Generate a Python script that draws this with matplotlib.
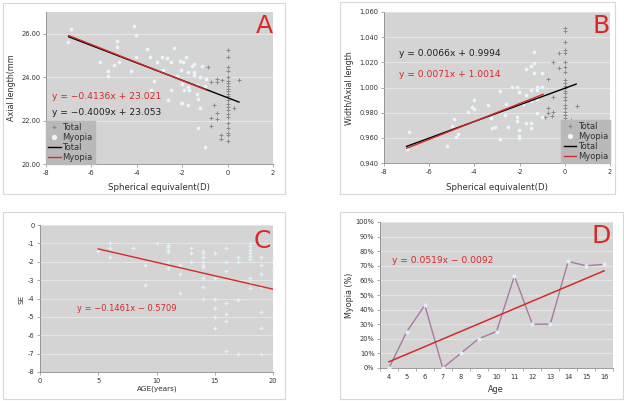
import matplotlib
matplotlib.use("Agg")
import matplotlib.pyplot as plt
import numpy as np
from matplotlib.patches import Rectangle
from matplotlib.lines import Line2D
from matplotlib.ticker import FuncFormatter

plt.rcParams['font.family'] = ['DejaVu Sans']
plt.rcParams['axes.unicode_minus'] = False

W, H = 624, 401

# ---------------- Data ----------------
# Panel A: Axial length vs spherical equivalent
a_myo_x = [-7.01, -6.89, -5.64, -5.27, -5.27, -5.02, -4.89, -4.89, -4.77, -4.25, -4.14, -4.02, -4.02,
           -3.55, -3.40, -3.37, -3.25, -3.13, -2.90, -2.85, -2.66, -2.62, -2.49, -2.49, -2.37, -2.22,
           -2.10, -2.04, -2.07, -2.00, -2.00, -1.96, -1.93, -1.85, -1.75, -1.75, -1.75, -1.70, -1.55,
           -1.48, -1.48, -1.48, -1.36, -1.36, -1.30, -1.30, -1.23, -1.23, -1.11, -1.01, -1.01, -0.96]
a_myo_y = [25.63, 26.21, 24.68, 24.26, 24.07, 24.56, 25.67, 25.37, 24.68, 24.30, 26.36, 25.96, 24.91,
           25.30, 24.91, 23.39, 23.80, 24.68, 24.94, 24.35, 24.88, 22.93, 24.68, 23.39, 25.34, 24.07,
           24.76, 24.35, 22.82, 22.80, 23.69, 24.68, 23.39, 24.91, 24.22, 23.54, 22.73, 23.40, 24.53,
           24.22, 24.10, 24.60, 23.62, 23.24, 23.00, 21.66, 24.00, 22.58, 24.53, 20.79, 23.60, 23.90]
a_oth_x = [-0.86, -0.73, -0.48, -0.48, -0.23, 0.51, 0.26, -0.62, -0.73, -0.48, -0.48, -0.73, -0.30, -0.30] + [0.0] * 23
a_oth_y = [24.49, 23.77, 23.92, 23.77, 23.89, 23.88, 22.59, 22.73, 22.14, 22.33, 22.05, 21.77, 21.33, 21.13,
           25.25, 24.91, 24.49, 24.27, 24.00, 23.84, 23.72, 23.57, 23.46, 23.36, 23.24, 23.11, 22.96,
           22.75, 22.62, 22.50, 22.32, 22.17, 21.89, 21.68, 21.43, 21.33, 21.05]
a_tot_fit = (-0.4009, 23.053, -7.0, 0.5)   # slope, intercept, x range
a_myo_fit = (-0.4136, 23.021, -7.0, -0.96)

# Panel B: Width/Axial length vs spherical equivalent
b_myo_x = [-7.00, -6.88, -5.23, -5.00, -4.89, -4.83, -4.74, -4.27, -4.12, -4.00, -4.00, -3.38, -3.27,
           -3.22, -3.09, -2.87, -2.85, -2.62, -2.63, -2.50, -2.35, -2.13, -2.01, -2.13, -2.10, -2.01,
           -2.01, -2.01, -1.84, -1.73, -1.73, -1.73, -1.50, -1.50, -1.50, -1.50, -1.50, -1.36, -1.36,
           -1.36, -1.24, -1.24, -1.24, -1.24, -1.02, -1.02, -1.02]
b_myo_y = [0.9510, 0.9649, 0.9535, 0.9694, 0.9752, 0.9609, 0.9630, 0.9803, 0.9847, 0.9829, 0.9900, 0.9861, 0.9755,
           0.9676, 0.9688, 0.9975, 0.9590, 0.9869, 0.9781, 0.9689, 1.0002, 1.0002, 0.9967, 0.9768, 0.9736, 0.9662,
           0.9617, 0.9598, 0.9866, 1.0147, 0.9940, 0.9716, 1.0170, 0.9980, 0.9891, 0.9676, 0.9720, 1.0285, 1.0192,
           1.0113, 1.0007, 0.9980, 0.9795, 0.9907, 1.0007, 1.0113, 0.9768]
b_oth_x = [-0.88, -0.73, -0.73, -0.73, -0.57, -0.51, -0.51, -0.51, -0.24, -0.24, 0.53, 0.27] + [0.0] * 24
b_oth_y = [0.9768, 1.0065, 0.9835, 0.9795, 0.9770, 1.0205, 0.9927, 0.9808, 1.0277, 1.0153, 0.9853, 0.9742,
           1.0470, 1.0450, 1.0364, 1.0298, 1.0272, 1.0205, 1.0166, 1.0126, 1.0060, 1.0033, 1.0012, 0.9994,
           0.9975, 0.9954, 0.9927, 0.9901, 0.9861, 0.9835, 0.9808, 0.9782, 0.9755, 0.9728, 0.9700, 0.9660]
b_tot_fit = (0.0066, 0.9994, -7.0, 0.5)
b_myo_fit = (0.0071, 1.0014, -7.0, -0.96)

# Panel C: SE vs age
c_age = [5, 6, 6, 6, 8, 9, 9, 10, 11, 11, 11, 11, 11, 11, 12, 12, 12, 13, 13, 13,
         14, 14, 14, 14, 14, 14, 14, 14, 14, 15, 15, 15, 15, 15, 15, 16, 16, 16, 16, 16, 16, 16,
         17, 17, 17, 17, 18, 18, 18, 18, 18, 18, 18, 18, 18, 19, 19, 19, 19, 19, 19, 19, 20, 20]
c_se = [-1.40, -1.00, -1.27, -1.73, -1.27, -2.15, -3.27, -1.00, -1.10, -1.22, -1.36, -1.45, -2.00, -2.36,
        -2.15, -2.64, -3.69, -1.27, -1.51, -2.00,
        -1.40, -1.55, -1.73, -2.00, -2.15, -2.27, -2.91, -3.40, -4.00,
        -1.51, -2.91, -4.00, -4.51, -5.00, -5.60,
        -1.27, -2.00, -2.51, -4.27, -4.85, -5.22, -6.87,
        -1.76, -2.00, -4.09, -7.00,
        -1.00, -1.15, -1.36, -1.55, -1.69, -1.87, -2.91, -3.15, -3.45,
        -1.73, -2.15, -2.64, -3.36, -4.73, -5.60, -7.00,
        -1.76, -2.51]
c_fit = (-0.1461, -0.5709, 5.0, 20.0)

# Panel D: Myopia prevalence by age
d_age = ['4', '5', '6', '7', '8', '9', '10', '11', '12', '13', '14', '15', '16']
d_pct = [0.00, 0.25, 0.43, 0.00, 0.10, 0.20, 0.25, 0.63, 0.30, 0.30, 0.73, 0.70, 0.71]
d_fit = (0.0519, -0.0092)

# ---------------- Style ----------------
BG = '#d4d4d4'
GRID = '#e6e6e6'
AXC = '#8c8c8c'
RED = '#d42a2a'
MYO = '#eaf6f9'
TOT = '#8a8a8a'
TICK_FS = 4.8
LAB_FS = 5.8
EQ_FS = 6.6

fig = plt.figure(figsize=(W / 100, H / 100), dpi=100)
fig.patch.set_facecolor('white')


def frame(x0, y0, x1, y1):
    fig.patches.append(Rectangle((x0 / W, 1 - y1 / H), (x1 - x0) / W, (y1 - y0) / H,
                                 transform=fig.transFigure, fill=False,
                                 edgecolor='#d8d8d8', linewidth=0.8))


def mkax(x0, y0, x1, y1):
    ax = fig.add_axes([x0 / W, 1 - y1 / H, (x1 - x0) / W, (y1 - y0) / H])
    ax.set_facecolor(BG)
    for s in ['top', 'right']:
        ax.spines[s].set_visible(False)
    for s in ['left', 'bottom']:
        ax.spines[s].set_color(AXC)
        ax.spines[s].set_linewidth(0.6)
    ax.tick_params(labelsize=TICK_FS, colors='#333333', length=2, width=0.5,
                   pad=2, color=AXC)
    ax.grid(axis='y', color=GRID, linewidth=0.7)
    ax.set_axisbelow(True)
    return ax


def ftext(x, y, s, **kw):
    fig.text(x / W, 1 - y / H, s, **kw)


def fitline(ax, fit, color, lw=1.0, z=4):
    m, b, x0, x1 = fit
    xs = np.array([x0, x1])
    ax.plot(xs, m * xs + b, color=color, linewidth=lw, zorder=z)


def legend_box(ax, loc, anchor):
    handles = [Line2D([], [], linestyle='none', marker='+', color=TOT, markersize=3, markeredgewidth=0.8),
               Line2D([], [], linestyle='none', marker='o', color=MYO, markersize=2.8),
               Line2D([], [], color='black', linewidth=1.0),
               Line2D([], [], color=RED, linewidth=1.0)]
    leg = ax.legend(handles, ['Total', 'Myopia', 'Total', 'Myopia'], loc=loc,
                    bbox_to_anchor=anchor, fontsize=6.0, frameon=True, fancybox=False,
                    handlelength=1.5, handletextpad=0.2, borderpad=0.25, labelspacing=0.12,
                    borderaxespad=0.0, framealpha=1.0)
    leg.get_frame().set_facecolor('#b9b9b9')
    leg.get_frame().set_edgecolor('#b9b9b9')
    for t in leg.get_texts():
        t.set_color('#303030')
    leg.set_zorder(10)
    return leg


def scatter_pair(ax, oth_x, oth_y, myo_x, myo_y):
    # Total series (all subjects); myopic subjects are drawn on top as light circles
    ax.scatter(oth_x, oth_y, marker='+', s=8, c=TOT, linewidths=0.7, zorder=2)
    ax.scatter(myo_x, myo_y, marker='o', s=7, c=MYO, linewidths=0, zorder=3)


# ---------------- Panel A ----------------
frame(3, 3, 285, 194)
axA = mkax(46, 12, 273, 164)
scatter_pair(axA, a_oth_x, a_oth_y, a_myo_x, a_myo_y)
fitline(axA, a_tot_fit, 'black')
fitline(axA, a_myo_fit, RED)
axA.set_xlim(-8, 2)
axA.set_ylim(20, 27)
axA.set_xticks([-8, -6, -4, -2, 0, 2])
axA.set_yticks([20, 22, 24, 26])
axA.yaxis.set_major_formatter(FuncFormatter(lambda v, p: f'{v:.2f}'))
axA.text(0.025, 0.447, 'y = −0.4136x + 23.021', transform=axA.transAxes, color=RED,
         fontsize=EQ_FS, va='center', ha='left')
axA.text(0.025, 0.342, 'y = −0.4009x + 23.053', transform=axA.transAxes, color='#202020',
         fontsize=EQ_FS, va='center', ha='left')
axA.text(0.998, 0.99, 'A', transform=axA.transAxes, color=RED, fontsize=18,
         ha='right', va='top')
legend_box(axA, 'lower left', (0.0, 0.0))
ftext(159, 188, 'Spherical equivalent(D)', fontsize=LAB_FS + 0.4, ha='center', va='center', color='#303030')
ftext(12, 88, 'Axial length(mm', fontsize=LAB_FS, ha='center', va='center', rotation=90, color='#303030')

# ---------------- Panel B ----------------
frame(340, 2, 615, 194)
axB = mkax(384, 12, 610, 163)
scatter_pair(axB, b_oth_x, b_oth_y, b_myo_x, b_myo_y)
fitline(axB, b_tot_fit, 'black')
fitline(axB, b_myo_fit, RED)
axB.set_xlim(-8, 2)
axB.set_ylim(0.94, 1.06)
axB.set_xticks([-8, -6, -4, -2, 0, 2])
axB.set_yticks([0.94, 0.96, 0.98, 1.00, 1.02, 1.04, 1.06])
axB.yaxis.set_major_formatter(FuncFormatter(lambda v, p: f'{v:.3f}'))
axB.text(0.068, 0.722, 'y = 0.0066x + 0.9994', transform=axB.transAxes, color='#202020',
         fontsize=EQ_FS, va='center', ha='left')
axB.text(0.068, 0.583, 'y = 0.0071x + 1.0014', transform=axB.transAxes, color=RED,
         fontsize=EQ_FS, va='center', ha='left')
axB.text(0.998, 0.99, 'B', transform=axB.transAxes, color=RED, fontsize=18,
         ha='right', va='top')
legend_box(axB, 'lower right', (1.0, 0.0))
ftext(497, 188, 'Spherical equivalent(D)', fontsize=LAB_FS + 0.4, ha='center', va='center', color='#303030')
ftext(350, 88, 'Width/Axial length', fontsize=LAB_FS, ha='center', va='center', rotation=90, color='#303030')

# ---------------- Panel C ----------------
frame(3, 212, 285, 399)
axC = mkax(40, 225, 273, 372)
axC.scatter(c_age, c_se, marker='+', s=9, c='#e2f3f7', linewidths=0.9, zorder=3)
fitline(axC, c_fit, RED, lw=1.0)
axC.set_xlim(0, 20)
axC.set_ylim(-8, 0)
axC.set_xticks([0, 5, 10, 15, 20])
axC.set_yticks(list(range(-8, 1)))
axC.text(0.159, 0.429, 'y = −0.1461x − 0.5709', transform=axC.transAxes, color=RED,
         fontsize=EQ_FS - 0.6, va='center', ha='left')
axC.text(0.99, 0.975, 'C', transform=axC.transAxes, color=RED, fontsize=18,
         ha='right', va='top')
ftext(157, 389, 'AGE(years)', fontsize=LAB_FS - 0.6, ha='center', va='center', color='#303030')
ftext(21, 299, 'SE', fontsize=LAB_FS - 0.6, ha='center', va='center', rotation=90, color='#303030')

# ---------------- Panel D ----------------
frame(340, 212, 623, 399)
axD = mkax(380, 222, 613, 368)
pos = np.arange(1, len(d_age) + 1)
axD.plot(pos, d_pct, color='#a77ba3', linewidth=1.0, marker='o', markersize=2.0,
         markerfacecolor='#e4eef6', markeredgecolor='#e4eef6', zorder=3)
axD.plot(pos, d_fit[0] * pos + d_fit[1], color=RED, linewidth=1.1, zorder=4)
axD.set_xlim(0.5, len(d_age) + 0.5)
axD.set_ylim(0, 1.0)
axD.set_xticks(pos)
axD.set_xticklabels(d_age)
axD.set_xticks(np.arange(0.5, len(d_age) + 1, 1.0), minor=True)
axD.tick_params(axis='x', which='major', length=0, pad=4)
axD.tick_params(axis='x', which='minor', length=2, width=0.5, color=AXC)
axD.set_yticks(np.arange(0, 1.01, 0.1))
axD.yaxis.set_major_formatter(FuncFormatter(lambda v, p: f'{v * 100:.0f}%'))
axD.text(0.052, 0.733, 'y = 0.0519x − 0.0092', transform=axD.transAxes, color=RED,
         fontsize=EQ_FS, va='center', ha='left')
axD.text(0.993, 0.985, 'D', transform=axD.transAxes, color=RED, fontsize=18,
         ha='right', va='top')
ftext(496, 389, 'Age', fontsize=LAB_FS, ha='center', va='center', color='#303030')
ftext(350, 295, 'Myopia (%)', fontsize=LAB_FS, ha='center', va='center', rotation=90, color='#303030')

fig.savefig('out.png', dpi=100, facecolor='white')
